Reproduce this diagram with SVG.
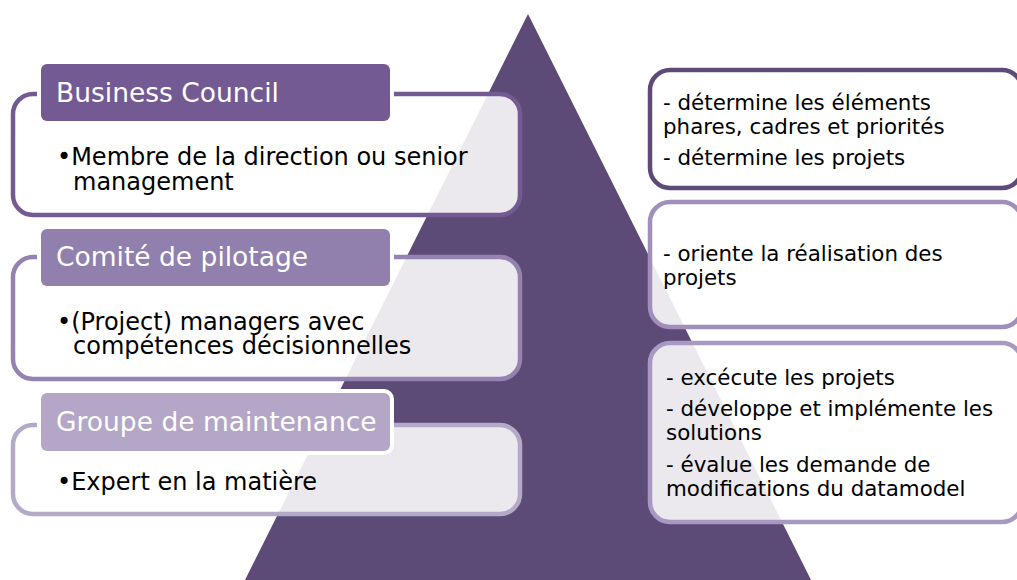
<svg xmlns="http://www.w3.org/2000/svg" width="1017" height="580" viewBox="0 0 1017 580">
<style>
.box{fill:#ffffff;fill-opacity:0.88;stroke-width:4.5}
.hdr{stroke:#ffffff;stroke-width:8;paint-order:stroke}
.ht{font-family:"DejaVu Sans",Verdana,sans-serif;font-size:26.5px;fill:#ffffff}
.bt{font-family:"DejaVu Sans",Verdana,sans-serif;font-size:24px;fill:#000000}
.rt{font-family:"DejaVu Sans",Verdana,sans-serif;font-size:21.4px;fill:#000000}
</style>
<rect width="1017" height="580" fill="#ffffff"/>
<polygon id="pyramid" points="528,14 812,582 244,582" fill="#5c4a77"/>
<g id="connectors"/>
<g id="node-business-council">
  <rect class="box" x="13" y="94" width="507" height="121" rx="20" stroke="#735a92"/>
  <rect class="hdr" x="41" y="64" width="349" height="57" rx="6" fill="#735a92"/>
  <text class="ht" x="56" y="102">Business Council</text>
  <text class="bt" x="57" y="165">•Membre de la direction ou senior</text>
  <text class="bt" x="73" y="190">management</text>
</g>
<g id="node-comite">
  <rect class="box" x="13" y="257" width="507" height="122" rx="20" stroke="#9483b0"/>
  <rect class="hdr" x="41" y="229" width="349" height="57" rx="6" fill="#9180ad"/>
  <text class="ht" x="56" y="266">Comité de pilotage</text>
  <text class="bt" x="57" y="330">•(Project) managers avec</text>
  <text class="bt" x="73" y="354">compétences décisionnelles</text>
</g>
<g id="node-groupe">
  <rect class="box" x="13" y="425" width="507" height="89" rx="20" stroke="#b5a9c8"/>
  <rect class="hdr" x="41" y="393" width="349" height="58" rx="6" fill="#b3a6c6"/>
  <text class="ht" x="56" y="431">Groupe de maintenance</text>
  <text class="bt" x="57" y="490">•Expert en la matière</text>
</g>
<g id="node-r1">
  <rect class="box" x="650" y="70" width="372" height="118" rx="20" stroke="#5e4a78"/>
  <text class="rt" x="663" y="110">- détermine les éléments</text>
  <text class="rt" x="663" y="134">phares, cadres et priorités</text>
  <text class="rt" x="663" y="165">- détermine les projets</text>
</g>
<g id="node-r2">
  <rect class="box" x="650" y="202" width="372" height="125" rx="20" stroke="#9f8fba"/>
  <text class="rt" x="663" y="261">- oriente la réalisation des</text>
  <text class="rt" x="663" y="285">projets</text>
</g>
<g id="node-r3">
  <rect class="box" x="650" y="343" width="372" height="179" rx="20" stroke="#a899c1"/>
  <text class="rt" x="666" y="385">- excécute les projets</text>
  <text class="rt" x="666" y="416">- développe et implémente les</text>
  <text class="rt" x="666" y="440">solutions</text>
  <text class="rt" x="666" y="472">- évalue les demande de</text>
  <text class="rt" x="666" y="496">modifications du datamodel</text>
</g>
</svg>
